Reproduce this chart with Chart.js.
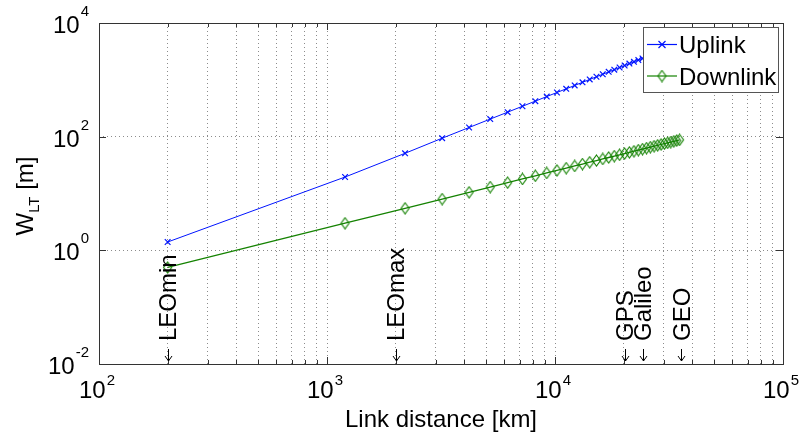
<!DOCTYPE html>
<html>
<head>
<meta charset="utf-8">
<script src="https://cdn.jsdelivr.net/npm/chart.js@4.4.1/dist/chart.umd.min.js"></script>
<style>
  html, body { margin: 0; padding: 0; background: #fff; }
  #wrap { width: 802px; height: 438px; }
</style>
</head>
<body>
<div id="wrap"><canvas id="wltChart" width="802" height="438"></canvas></div>
<script>
// link distance samples [km]
var distances = [200, 1200, 2200, 3200, 4200, 5200, 6200, 7200, 8200, 9200,
    10200, 11200, 12200, 13200, 14200, 15200, 16200, 17200, 18200, 19200,
    20200, 21200, 22200, 23200, 24200, 25200, 26200, 27200, 28200, 29200,
    30200, 31200, 32200, 33200, 34200, 35200];
// W_LT [m]
var uplink = [1.4, 19.5, 51, 94, 145, 204, 270, 343, 422, 508,
    599, 695, 797, 904, 1016, 1133, 1255, 1381, 1512, 1647,
    1786, 1930, 2077, 2229, 2385, 2545, 2707, 2874, 3046, 3221,
    3399, 3582, 3766, 3955, 4148, 4343];
var downlink = [0.5, 3, 5.5, 8, 10.5, 13, 15.5, 18, 20.5, 23,
    25.5, 28, 30.5, 33, 35.5, 38, 40.5, 43, 45.5, 48,
    50.5, 53, 55.5, 58, 60.5, 63, 65.5, 68, 70.5, 73,
    75.5, 78, 80.5, 83, 85.5, 88];

var xMajorTicks = [100, 1000, 10000, 100000];
var xExponents = ['2', '3', '4', '5'];
var xGridTicks = [100, 200, 300, 400, 500, 600, 700, 800, 900,
    1000, 2000, 3000, 4000, 5000, 6000, 7000, 8000, 9000,
    10000, 20000, 30000, 40000, 50000, 60000, 70000, 80000, 90000, 100000];
var yMajorTicks = [0.01, 1, 100, 10000];
var yExponents = ['-2', '0', '2', '4'];

var orbitNames = ['LEOmin', 'LEOmax', 'GPS', 'Galileo', 'GEO'];
var orbitDist = [200, 2000, 20200, 24200, 35786];

var seriesNames = ['Uplink', 'Downlink'];
var FONT = "'Liberation Sans', Arial, Helvetica, sans-serif";
var BLUE = 'rgb(0,20,255)';
var GREEN = 'rgb(20,130,0)';
var AXIS = '#333';

function makeDiamond(color) {
    var c = document.createElement('canvas');
    c.width = 11; c.height = 13;
    var g = c.getContext('2d');
    g.strokeStyle = color;
    g.lineWidth = 1.1;
    g.beginPath();
    g.moveTo(5.5, 1); g.lineTo(9.5, 6.5); g.lineTo(5.5, 12); g.lineTo(1.5, 6.5); g.closePath();
    g.stroke();
    return c;
}
var diamond = makeDiamond(GREEN);

function drawCross(ctx, x, y, r, color) {
    ctx.save();
    ctx.strokeStyle = color;
    ctx.lineWidth = 1.2;
    ctx.beginPath();
    ctx.moveTo(x - r, y - r); ctx.lineTo(x + r, y + r);
    ctx.moveTo(x + r, y - r); ctx.lineTo(x - r, y + r);
    ctx.stroke();
    ctx.restore();
}

function drawPow(ctx, x, baseY, expY, exp, align) {
    ctx.font = '24px ' + FONT;
    var w10 = ctx.measureText('10').width;
    ctx.font = '15px ' + FONT;
    var wExp = ctx.measureText(exp).width;
    var total = w10 + 1 + wExp;
    var start = align === 'right' ? x - total : x - total / 2 - 2;
    ctx.textAlign = 'left';
    ctx.textBaseline = 'alphabetic';
    ctx.fillStyle = '#000';
    ctx.font = '24px ' + FONT;
    ctx.fillText('10', start, baseY);
    ctx.font = '15px ' + FONT;
    ctx.fillText(exp, start + w10 + 1, expY);
}

var decorations = {
    id: 'decorations',
    afterDraw: function(chart) {
        var ctx = chart.ctx;
        var a = chart.chartArea;
        var xs = chart.scales.x, ys = chart.scales.y;
        ctx.save();

        // box
        ctx.strokeStyle = AXIS;
        ctx.lineWidth = 1;
        ctx.strokeRect(Math.round(a.left) + 0.5, Math.round(a.top) + 0.5,
            Math.round(a.right - a.left), Math.round(a.bottom - a.top));

        // inward ticks
        ctx.beginPath();
        xGridTicks.forEach(function(v) {
            var px = Math.round(xs.getPixelForValue(v)) + 0.5;
            var len = xMajorTicks.indexOf(v) >= 0 ? 7 : 4;
            ctx.moveTo(px, a.bottom); ctx.lineTo(px, a.bottom - len);
            ctx.moveTo(px, a.top); ctx.lineTo(px, a.top + len);
        });
        yMajorTicks.forEach(function(v) {
            var py = Math.round(ys.getPixelForValue(v)) + 0.5;
            ctx.moveTo(a.left, py); ctx.lineTo(a.left + 7, py);
            ctx.moveTo(a.right, py); ctx.lineTo(a.right - 7, py);
        });
        ctx.stroke();

        // tick labels
        xMajorTicks.forEach(function(v, i) {
            var px = xs.getPixelForValue(v);
            drawPow(ctx, px, a.bottom + 34, a.bottom + 21, xExponents[i], 'center');
        });
        yMajorTicks.forEach(function(v, i) {
            var py = ys.getPixelForValue(v);
            drawPow(ctx, 89, py + 10, py - 7, yExponents[i], 'right');
        });

        // axis titles
        ctx.fillStyle = '#000';
        ctx.font = '24px ' + FONT;
        ctx.textAlign = 'center';
        ctx.textBaseline = 'alphabetic';
        ctx.fillText('Link distance [km]', (a.left + a.right) / 2, a.bottom + 63);

        ctx.save();
        ctx.translate(33, 196);
        ctx.rotate(-Math.PI / 2);
        ctx.textAlign = 'left';
        ctx.font = '24px ' + FONT;
        var wW = ctx.measureText('W').width;
        ctx.font = '15px ' + FONT;
        var wLT = ctx.measureText('LT').width;
        ctx.font = '24px ' + FONT;
        var wM = ctx.measureText(' [m]').width;
        var s = -(wW + wLT + wM) / 2;
        ctx.fillText('W', s, 0);
        ctx.font = '15px ' + FONT;
        ctx.fillText('LT', s + wW, 6);
        ctx.font = '24px ' + FONT;
        ctx.fillText(' [m]', s + wW + wLT, 0);
        ctx.restore();

        // orbit annotations
        orbitNames.forEach(function(name, i) {
            var px = xs.getPixelForValue(orbitDist[i]);
            ctx.save();
            ctx.translate(px + 8.5, a.bottom - 23);
            ctx.rotate(-Math.PI / 2);
            ctx.font = '24px ' + FONT;
            ctx.textAlign = 'left';
            ctx.fillStyle = '#000';
            ctx.fillText(name, 0, 0);
            ctx.restore();
            var ax = Math.round(px) + 0.5;
            ctx.strokeStyle = '#000';
            ctx.lineWidth = 1;
            ctx.beginPath();
            ctx.moveTo(ax, a.bottom - 15); ctx.lineTo(ax, a.bottom - 3);
            ctx.moveTo(ax - 3.5, a.bottom - 8); ctx.lineTo(ax, a.bottom - 3); ctx.lineTo(ax + 3.5, a.bottom - 8);
            ctx.stroke();
        });

        // legend
        var lx = 643.5, ly = 27.5, lw = 135, lh = 65;
        ctx.fillStyle = '#fff';
        ctx.fillRect(lx, ly, lw, lh);
        ctx.strokeStyle = '#555';
        ctx.lineWidth = 1;
        ctx.strokeRect(lx, ly, lw, lh);
        var rows = [44.5, 76];
        var colors = [BLUE, GREEN];
        seriesNames.forEach(function(name, i) {
            var ry = rows[i];
            ctx.strokeStyle = colors[i];
            ctx.lineWidth = 1.2;
            ctx.beginPath();
            ctx.moveTo(647, ry); ctx.lineTo(677, ry);
            ctx.stroke();
            if (i === 0) drawCross(ctx, 662, ry, 3.5, BLUE);
            else ctx.drawImage(diamond, 662 - 5.5, ry - 6.5);
            ctx.fillStyle = '#000';
            ctx.font = '24px ' + FONT;
            ctx.textAlign = 'left';
            ctx.textBaseline = 'alphabetic';
            ctx.fillText(name, 679, ry + 8.5);
        });
        ctx.restore();
    }
};

new Chart(document.getElementById('wltChart'), {
    type: 'line',
    data: {
        datasets: [
            {
                label: seriesNames[0],
                data: distances.map(function(d, i) { return { x: d, y: uplink[i] }; }),
                borderColor: BLUE,
                borderWidth: 1,
                pointStyle: 'crossRot',
                pointRadius: 4,
                pointBorderColor: BLUE,
                pointBorderWidth: 1.2,
                tension: 0,
                fill: false
            },
            {
                label: seriesNames[1],
                data: distances.map(function(d, i) { return { x: d, y: downlink[i] }; }),
                borderColor: GREEN,
                borderWidth: 1.3,
                pointStyle: diamond,
                pointRadius: 5,
                tension: 0,
                fill: false
            }
        ]
    },
    options: {
        responsive: false,
        animation: false,
        devicePixelRatio: 1,
        layout: { padding: { left: 99, right: 19, top: 23, bottom: 74 } },
        plugins: {
            legend: { display: false },
            tooltip: { enabled: false }
        },
        scales: {
            x: {
                type: 'logarithmic',
                min: 100,
                max: 100000,
                afterBuildTicks: function(scale) {
                    scale.ticks = xGridTicks.map(function(v) { return { value: v }; });
                },
                ticks: { display: false },
                grid: { color: '#8c8c8c', lineWidth: 1, drawTicks: false },
                border: { display: false, dash: [1, 3] }
            },
            y: {
                type: 'logarithmic',
                min: 0.01,
                max: 10000,
                afterBuildTicks: function(scale) {
                    scale.ticks = yMajorTicks.map(function(v) { return { value: v }; });
                },
                ticks: { display: false },
                grid: { color: '#8c8c8c', lineWidth: 1, drawTicks: false },
                border: { display: false, dash: [1, 3] }
            }
        }
    },
    plugins: [decorations]
});
</script>
</body>
</html>
